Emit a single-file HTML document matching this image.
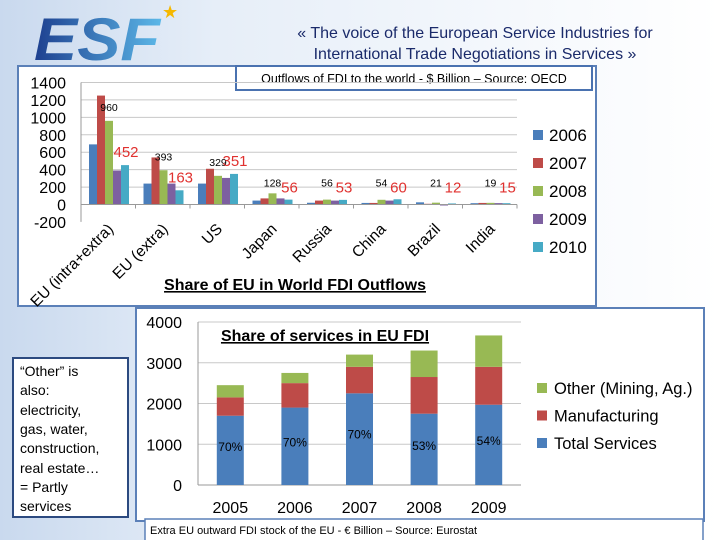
<!DOCTYPE html>
<html><head><meta charset="utf-8"><style>
html,body{margin:0;padding:0;width:720px;height:540px;overflow:hidden;background:#fff;}
svg{display:block;font-family:"Liberation Sans",sans-serif;}
</style></head><body>
<svg id="s" width="720" height="540" viewBox="0 0 720 540" xmlns="http://www.w3.org/2000/svg">
<defs>
<linearGradient id="bg" x1="0" x2="1" y1="0" y2="0"><stop offset="0" stop-color="#c9d9ee"/><stop offset="0.3" stop-color="#e6eef8"/><stop offset="1" stop-color="#ffffff"/></linearGradient>
<linearGradient id="lg" x1="0" x2="1"><stop offset="0" stop-color="#1d3f8f"/><stop offset="1" stop-color="#5cb8e8"/></linearGradient>
</defs>
<rect x="0" y="0" width="720" height="540" fill="url(#bg)"/>
<text x="34" y="60" font-size="60" font-weight="bold" font-style="italic" fill="url(#lg)" textLength="126" lengthAdjust="spacingAndGlyphs">ESF</text>
<text x="162" y="18" font-size="18" fill="#f5b800">★</text>
<text x="475" y="38" font-size="16" text-anchor="middle" fill="#1a2a6a">«  The voice of the European Service Industries for</text>
<text x="475" y="59" font-size="16" text-anchor="middle" fill="#1a2a6a">International Trade Negotiations in Services  »</text>

<rect x="18" y="66" width="578" height="240" fill="#fff" stroke="#5b80b8" stroke-width="2"/>
<rect x="236" y="66" width="356" height="24" fill="#fff" stroke="#4a72b0" stroke-width="2"/>
<text x="414" y="83" font-size="12.5" text-anchor="middle" fill="#000">Outflows of FDI to the world - $ Billion – Source: OECD</text>
<g id="top"></g>
<text x="295" y="290" font-size="16" font-weight="bold" text-anchor="middle" text-decoration="underline" fill="#000">Share of EU in World FDI Outflows</text>

<rect x="136" y="308" width="568" height="213" fill="#fff" stroke="#5b80b8" stroke-width="2"/>
<g id="bot"></g>
<text x="325" y="341" font-size="16" font-weight="bold" text-anchor="middle" text-decoration="underline" fill="#000">Share of services in EU FDI</text>
<rect x="145" y="519" width="558" height="22" fill="#fff" stroke="#5b80b8" stroke-width="1.5"/>
<text x="150" y="534" font-size="11" fill="#000">Extra EU outward FDI stock of the EU - € Billion – Source: Eurostat</text>

<rect x="13" y="358" width="115" height="159" fill="#fff" stroke="#2c4a80" stroke-width="2"/>
<g font-size="14" fill="#000">
<text x="20" y="376">“Other” is</text><text x="20" y="395">also:</text><text x="20" y="415">electricity,</text><text x="20" y="434">gas, water,</text><text x="20" y="453">construction,</text><text x="20" y="473">real estate…</text><text x="20" y="492">= Partly</text><text x="20" y="511">services</text>
</g>
</svg>
<script>
const NS="http://www.w3.org/2000/svg";
// Top chart data
const countries=["EU (intra+extra)","EU (extra)","US","Japan","Russia","China","Brazil","India"];
const years=["2006","2007","2008","2009","2010"];
const v2006=[690,240,240,45,20,18,25,15];
const v2007=[1250,540,410,70,45,18,8,18];
const v2008=[960,393,329,128,56,54,21,19];
const v2009=[390,240,305,70,45,45,-10,16];
const v2010=[452,163,351,56,53,60,12,15];
const topTicks=[-200,0,200,400,600,800,1000,1200,1400];
// Bottom chart data
const bYears=["2005","2006","2007","2008","2009"];
const services=[1700,1900,2250,1750,1970];
const manuf=[450,600,650,900,930];
const other=[300,250,300,650,770];
const shares=["70%","70%","70%","53%","54%"];
const botTicks=[0,1000,2000,3000,4000];

function mk(p,tag,a,txt){const e=document.createElementNS(NS,tag);for(const k in a)e.setAttribute(k,a[k]);if(txt!==undefined)e.textContent=txt;p.appendChild(e);return e;}
const colors=["#4a7ebb","#be4b48","#98b954","#7d60a0","#46aac5"];
const series=[v2006,v2007,v2008,v2009,v2010];

// top
const T=document.getElementById("top");
const tx0=81,tx1=517,ty0=204.5,tk=122/1400;
const ty=v=>ty0-v*tk;
const cw=(tx1-tx0)/countries.length;
topTicks.forEach(t=>{
 if(t>=0){const g=mk(T,"line",{x1:tx0,x2:tx1,y1:ty(t),y2:ty(t),stroke:"#c8c8c8"});
 
 }
 const l=mk(T,"text",{x:66,y:ty(t)+6,"font-size":16,"text-anchor":"end"},t);
 
 
});
mk(T,"line",{x1:tx0,x2:tx0,y1:ty(1400),y2:ty(-200),stroke:"#999"});
countries.forEach((c,i)=>{
 const gx=tx0+i*cw+8;
 series.forEach((s,j)=>{
  const v=s[i];const y=Math.min(ty(v),ty0);const h=Math.max(Math.abs(ty(v)-ty0),1);
  const b=mk(T,"rect",{x:gx+j*8,y:y,width:8,height:h,fill:colors[j]});
  
  
 });
 const l1=mk(T,"text",{x:gx+20,y:(i<3?ty(v2008[i])-10:ty0-18),"font-size":10.5,"text-anchor":"middle"},v2008[i]);
 
 
 const l2=mk(T,"text",{x:gx+37,y:(i<3?ty(v2010[i])-8:ty0-12),"font-size":15,fill:"#e0312f","text-anchor":"middle"},v2010[i]);
 
 
 const cx=tx0+(i+0.5)*cw+6;
 const xl=mk(T,"text",{x:cx,y:ty(-200)+8,"font-size":15.5,"text-anchor":"end",transform:`rotate(-45 ${cx} ${ty(-200)+8})`},c);
 
 
 mk(T,"line",{x1:tx0+(i+1)*cw,x2:tx0+(i+1)*cw,y1:ty0,y2:ty0+4,stroke:"#999"});
});
mk(T,"line",{x1:tx0,x2:tx1,y1:ty0,y2:ty0,stroke:"#999"});
years.forEach((y,j)=>{
 const sq=mk(T,"rect",{x:533,y:130+j*28,width:10,height:10,fill:colors[j]});
 
 
 const t=mk(T,"text",{x:549,y:141+j*28,"font-size":17},y);
 
 
});

// bottom
const B=document.getElementById("bot");
const bx0=198,bx1=521,by0=485,bk=163/4000;
const by=v=>by0-v*bk;
const bw=(bx1-bx0)/bYears.length;
botTicks.forEach(t=>{
 const g=mk(B,"line",{x1:bx0,x2:bx1,y1:by(t),y2:by(t),stroke:t?"#c8c8c8":"#999"});
 
 
 const l=mk(B,"text",{x:182,y:by(t)+6,"font-size":16,"text-anchor":"end"},t);
 
 
});
mk(B,"line",{x1:bx0,x2:bx0,y1:by(4000),y2:by0,stroke:"#999"});
const stacks=[services,manuf,other];const scol=["#4a7ebb","#be4b48","#98b954"];const snames=["services","manufacturing","other"];
bYears.forEach((yr,i)=>{
 const cx=bx0+(i+0.5)*bw;let base=0;
 stacks.forEach((s,j)=>{
  const r=mk(B,"rect",{x:cx-13.5,y:by(base+s[i]),width:27,height:s[i]*bk,fill:scol[j]});
  
  
  base+=s[i];
 });
 const p=mk(B,"text",{x:cx,y:by(services[i]*0.55)+4,"font-size":12,"text-anchor":"middle"},shares[i]);
 
 
 const xl=mk(B,"text",{x:cx,y:513,"font-size":16,"text-anchor":"middle"},yr);
 
 
});
const leg=["Other (Mining, Ag.)","Manufacturing","Total Services"];const lc=["#98b954","#be4b48","#4a7ebb"];
leg.forEach((n,j)=>{
 const sq=mk(B,"rect",{x:537,y:383+j*27.5,width:10,height:10,fill:lc[j]});
 
 
 const t=mk(B,"text",{x:554,y:394+j*27.5,"font-size":16.5},n);
 
 
});
</script>
</body></html>
